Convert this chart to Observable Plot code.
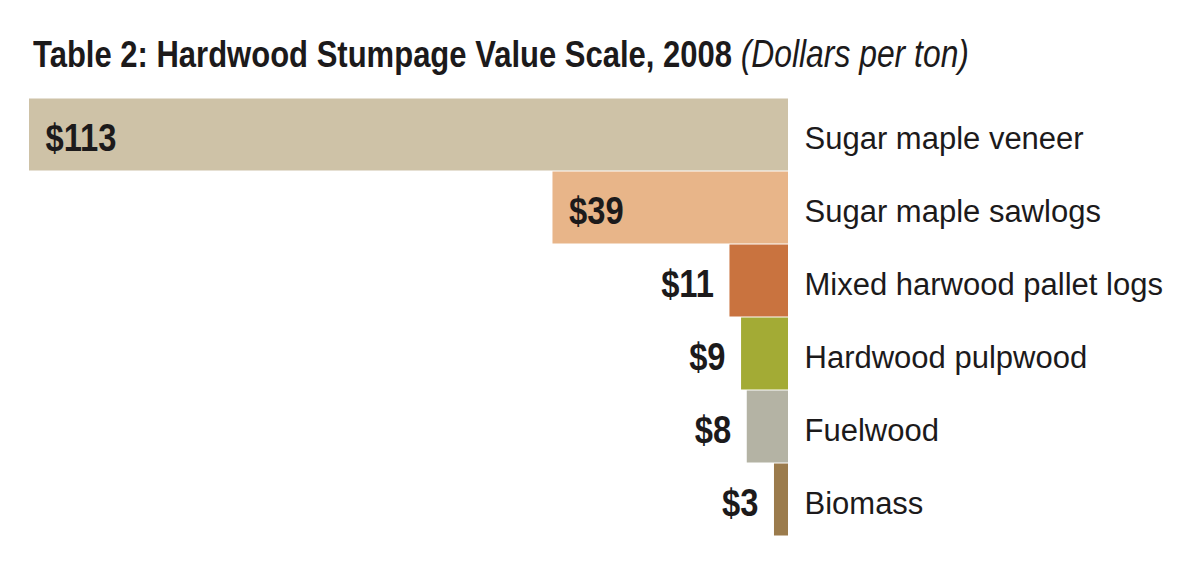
<!DOCTYPE html>
<html>
<head>
<meta charset="utf-8">
<script src="https://cdn.jsdelivr.net/npm/d3@7"></script>
<script src="https://cdn.jsdelivr.net/npm/@observablehq/plot@0.6"></script>
<style>
  html, body { margin: 0; padding: 0; background: #ffffff; }
  #wrap { width: 1200px; height: 561px; position: relative; overflow: hidden; }
  #title {
    height: 90px; box-sizing: border-box; padding-top: 36px; padding-left: 33px;
    font-family: "Liberation Sans", Arial, sans-serif; font-size: 37px; line-height: 37px;
    color: #1c1a1b; white-space: nowrap;
  }
  #title span.inner { display: inline-block; transform: scaleX(0.838); transform-origin: 0 50%; }
  #title b { font-weight: bold; }
  #title i { font-style: italic; font-weight: normal; font-size: 38px; }
  svg { display: block; }
</style>
</head>
<body>
<div id="wrap">
  <div id="title"><span class="inner"><b>Table 2: Hardwood Stumpage Value Scale, 2008</b> <i>(Dollars per ton)</i></span></div>
  <div id="chart"></div>
</div>
<script>
const categories = ["Sugar maple veneer", "Sugar maple sawlogs", "Mixed harwood pallet logs", "Hardwood pulpwood", "Fuelwood", "Biomass"];
const values = [113, 39, 11, 9, 8, 3];
const valueLabels = ["$113", "$39", "$11", "$9", "$8", "$3"];
const barColors = ["#cec2a7", "#e8b589", "#c9733f", "#a3ab35", "#b4b3a4", "#9b7b4c"];

const data = categories.map((name, i) => ({name, value: values[i], label: valueLabels[i]}));
const inside = data.filter(d => d.value > 30);
const outside = data.filter(d => d.value <= 30);

const textColor = "#1c1a1b";

const chart = Plot.plot({
  width: 1200,
  height: 471,
  marginTop: 8,
  marginBottom: 25,
  marginLeft: 29,
  marginRight: 412,
  style: {fontFamily: "'Liberation Sans', Arial, sans-serif", background: "#ffffff"},
  x: {type: "pow", exponent: 1.1, domain: [0, 113], reverse: true, axis: null},
  y: {domain: categories, padding: 0, axis: null},
  color: {domain: categories, range: barColors},
  marks: [
    Plot.barX(data, {x1: 0, x2: "value", y: "name", fill: "name", insetTop: 0.5, insetBottom: 0.5}),
    Plot.text(data, {x: 0, y: "name", text: "name", textAnchor: "start", dx: 16, dy: 4,
      fontSize: 31, fill: textColor}),
    Plot.text(inside, {x: "value", y: "name", text: "label", textAnchor: "start", dx: 16, dy: 3.5,
      fontSize: 39, fontWeight: "bold", fill: textColor}),
    Plot.text(outside, {x: "value", y: "name", text: "label", textAnchor: "end", dx: -16, dy: 3.5,
      fontSize: 39, fontWeight: "bold", fill: textColor})
  ]
});

// condense the bold value labels horizontally (condensed typeface look)
chart.querySelectorAll("text").forEach(t => {
  if (!t.textContent.startsWith("$")) return;
  const tr = t.getAttribute("transform");
  if (tr) t.setAttribute("transform", tr + " scale(0.84,1)");
  else {
    const x = +t.getAttribute("x") || 0;
    t.setAttribute("transform", `translate(${x},0) scale(0.84,1) translate(${-x},0)`);
  }
});

document.getElementById("chart").appendChild(chart);
</script>
</body>
</html>
